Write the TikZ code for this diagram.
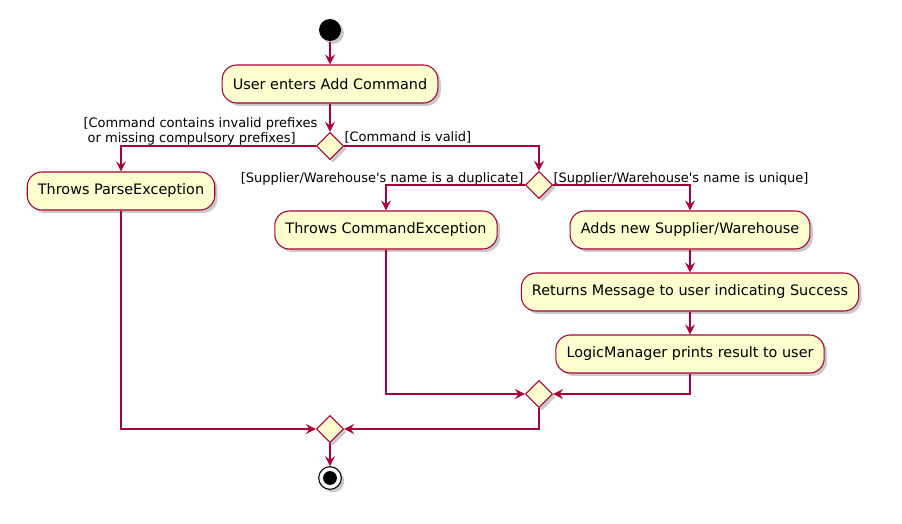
\documentclass[tikz,border=0pt]{standalone}
\usepackage{fontspec}
\setmainfont{DejaVu Sans}
\usetikzlibrary{arrows.meta,shapes.geometric,shadows}
\definecolor{umlred}{HTML}{A80036}
\definecolor{umlfill}{HTML}{FEFECE}
\begin{document}
\begin{tikzpicture}[x=0.75pt,y=-0.75pt,line width=0.8pt,
  shade/.style={drop shadow={shadow xshift=2.2pt,shadow yshift=-2.2pt,opacity=0.3,fill=black!70}},
  action/.style={draw=umlred,fill=umlfill,rounded corners=11pt,minimum height=28.5pt,
    inner xsep=8pt,font=\fontsize{10.8}{13}\selectfont,shade},
  choice/.style={draw=umlred,fill=umlfill,diamond,inner sep=0pt,minimum width=20.5pt,
    minimum height=20.5pt,shade},
  guard/.style={font=\fontsize{9.75}{11.25}\selectfont,inner sep=0pt},
  flow/.style={draw=umlred,-{Stealth[length=7.5pt,width=7.5pt,inset=2.8pt]}},
  startdot/.style={circle,fill=black,minimum size=16.5pt,inner sep=0pt,shade},
  stopdot/.style={circle,draw=black,fill=white,minimum size=17pt,inner sep=0pt,shade,
    path picture={\fill[black] (path picture bounding box.center) circle (5.2pt);}}]
 \useasboundingbox (0,0) rectangle (902,524);
 \node[startdot] (start) at (330,30) {};
 \node[action] (user) at (330,84) {User enters Add Command};
 \node[choice] (c1) at (330,146) {};
 \node[action] (parse) at (121,191) {Throws ParseException};
 \node[choice] (c2) at (539,185) {};
 \node[action] (cmdex) at (386,230) {Throws CommandException};
 \node[action] (adds) at (690,230) {Adds new Supplier/Warehouse};
 \node[action] (ret) at (690,292) {Returns Message to user indicating Success};
 \node[action] (logic) at (690,354) {LogicManager prints result to user};
 \node[choice] (m1) at (539,394) {};
 \node[choice] (m2) at (330,429) {};
 \node[stopdot] (stop) at (330,478) {};
 \node[guard,anchor=north west,align=left] (invalid) at (83,117)
   {[Command contains invalid prefixes\\\hspace*{0.32em}or missing compulsory prefixes]};
 \node[guard,anchor=base west] (valid) at (344,142) {[Command is valid]};
 \node[guard,anchor=base east] (dup) at (524,182)
   {[Supplier/Warehouse\textquotesingle s name is a duplicate]};
 \node[guard,anchor=base west] (uniq) at (553,182)
   {[Supplier/Warehouse\textquotesingle s name is unique]};
 \draw[flow] (start) -- (user);
 \draw[flow] (user) -- (c1);
 \draw[flow] (c1.west) -| (parse);
 \draw[flow] (c1.east) -| (c2);
 \draw[flow] (c2.west) -| (cmdex);
 \draw[flow] (c2.east) -| (adds);
 \draw[flow] (adds) -- (ret);
 \draw[flow] (ret) -- (logic);
 \draw[flow] (cmdex) |- (m1);
 \draw[flow] (logic) |- (m1);
 \draw[flow] (m1) |- (m2);
 \draw[flow] (parse) |- (m2);
 \draw[flow] (m2) -- (stop);
\end{tikzpicture}
\end{document}
